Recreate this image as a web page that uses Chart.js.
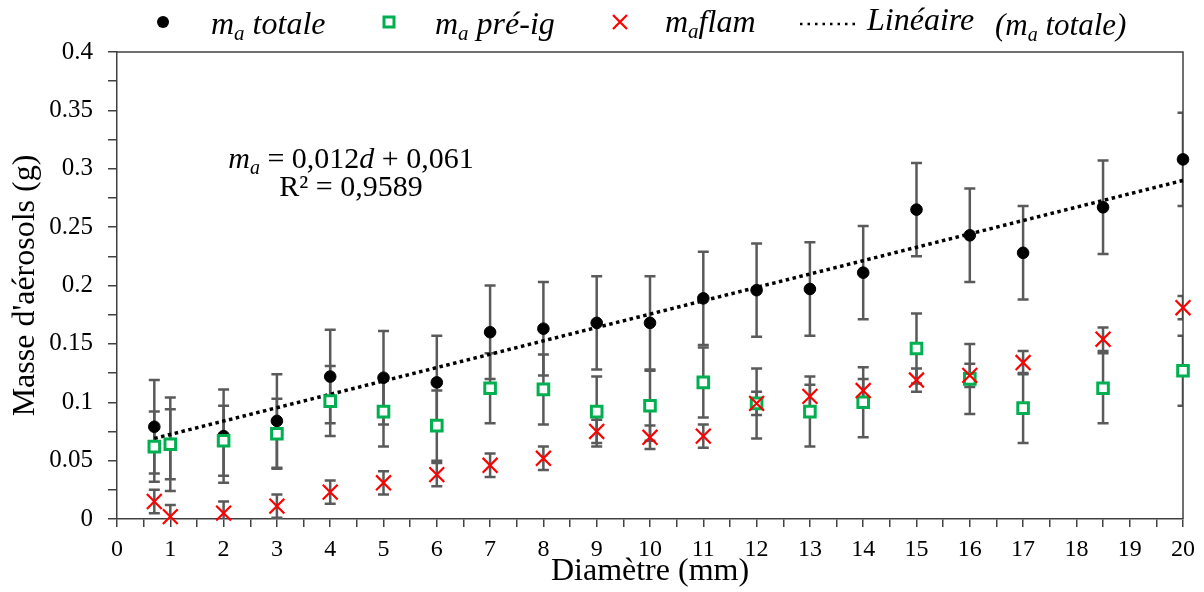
<!DOCTYPE html>
<html>
<head>
<meta charset="utf-8">
<title>Masse d'aérosols</title>
<script src="https://cdn.jsdelivr.net/npm/chart.js@4.4.1/dist/chart.umd.min.js"></script>
<style>
    html, body { margin: 0; padding: 0; background: #fff; }
    #wrap { width: 1204px; height: 592px; }
</style>
</head>
<body>
<div id="wrap"><canvas id="massChart" width="1204" height="592"></canvas></div>
<script>
// Data
const diameters = [0.7, 1, 2, 3, 4, 5, 6, 7, 8, 9, 10, 11, 12, 13, 14, 15, 16, 17, 18.5, 20];
const massTotale = [0.079, 0.064, 0.071, 0.084, 0.122, 0.121, 0.117, 0.160, 0.163, 0.168, 0.168,
                    0.189, 0.196, 0.197, 0.211, 0.265, 0.243, 0.228, 0.267, 0.308];
const massPreIg = [0.062, 0.064, 0.067, 0.073, 0.101, 0.092, 0.080, 0.112, 0.111, 0.092, 0.097,
                   0.117, 0.099, 0.092, 0.100, 0.146, 0.120, 0.095, 0.112, 0.127];
const massFlam = [0.015, 0.002, 0.005, 0.011, 0.023, 0.031, 0.038, 0.046, 0.052, 0.075, 0.070,
                  0.071, 0.099, 0.105, 0.110, 0.119, 0.123, 0.134, 0.154, 0.181];
const errTotale = 0.04;
const errPreIg = 0.03;
const errFlam = 0.01;
// Trend line end points (Linéaire, m_a totale)
const fitX = [0.7, 20];
const fitY = [0.069, 0.290];

const SERIF = '"Liberation Serif", "Times New Roman", serif';
const AXIS = '#404040';
const GREEN = '#00B050';
const RED = '#FF0000';

Chart.defaults.font.family = SERIF;
Chart.defaults.color = '#000';

function points(xs, ys) {
    return xs.map((x, i) => ({ x: x, y: ys[i] }));
}

// Error bars drawn behind the markers, clipped to the plot frame
const errorBars = {
    id: 'errorBars',
    beforeDatasetsDraw(chart) {
        const { ctx, chartArea, scales: { x, y } } = chart;
        ctx.save();
        ctx.beginPath();
        ctx.rect(chartArea.left, chartArea.top, chartArea.width, chartArea.height);
        ctx.clip();
        ctx.strokeStyle = '#5a5a5a';
        ctx.lineWidth = 2.5;
        chart.data.datasets.forEach(ds => {
            if (!ds.err) return;
            ds.data.forEach(p => {
                const px = x.getPixelForValue(p.x);
                const top = y.getPixelForValue(p.y + ds.err);
                const bot = y.getPixelForValue(p.y - ds.err);
                ctx.beginPath();
                ctx.moveTo(px, top);
                ctx.lineTo(px, bot);
                ctx.moveTo(px - 5.5, top);
                ctx.lineTo(px + 5.5, top);
                ctx.moveTo(px - 5.5, bot);
                ctx.lineTo(px + 5.5, bot);
                ctx.stroke();
            });
        });
        ctx.restore();

        // top and right side of the frame
        ctx.save();
        ctx.strokeStyle = AXIS;
        ctx.lineWidth = 1.5;
        ctx.beginPath();
        ctx.moveTo(chartArea.left, chartArea.top);
        ctx.lineTo(chartArea.right, chartArea.top);
        ctx.lineTo(chartArea.right, chartArea.bottom);
        ctx.stroke();
        ctx.restore();
    }
};

// text made of pieces (for the m_a subscripts)
function drawParts(ctx, parts, x, y, align) {
    let total = 0;
    parts.forEach(p => { ctx.font = p.font; total += ctx.measureText(p.t).width; });
    let cx = align === 'center' ? x - total / 2 : x;
    ctx.textAlign = 'left';
    ctx.textBaseline = 'alphabetic';
    parts.forEach(p => {
        ctx.font = p.font;
        ctx.fillText(p.t, cx, y + (p.dy || 0));
        cx += ctx.measureText(p.t).width;
    });
}

const it = size => 'italic ' + size + 'px ' + SERIF;
const up = size => size + 'px ' + SERIF;

const legendAndEquation = {
    id: 'legendAndEquation',
    afterDraw(chart) {
        const ctx = chart.ctx;
        ctx.save();
        ctx.fillStyle = '#000';

        // legend markers
        ctx.beginPath();
        ctx.arc(163, 22, 6, 0, Math.PI * 2);
        ctx.fill();

        ctx.strokeStyle = GREEN;
        ctx.lineWidth = 3;
        ctx.strokeRect(384, 17, 10, 10);

        ctx.strokeStyle = RED;
        ctx.lineWidth = 2.2;
        ctx.beginPath();
        ctx.moveTo(613, 15); ctx.lineTo(627, 29);
        ctx.moveTo(627, 15); ctx.lineTo(613, 29);
        ctx.stroke();

        ctx.strokeStyle = '#000';
        ctx.lineWidth = 2.5;
        ctx.setLineDash([2.5, 5]);
        ctx.beginPath();
        ctx.moveTo(800, 24); ctx.lineTo(856, 24);
        ctx.stroke();
        ctx.setLineDash([]);

        // legend texts
        drawParts(ctx, [{ t: 'm', font: it(32) }, { t: 'a', font: it(21), dy: 6 }, { t: ' totale', font: it(32) }], 211, 34);
        drawParts(ctx, [{ t: 'm', font: it(32) }, { t: 'a', font: it(21), dy: 6 }, { t: ' pré-ig', font: it(32) }], 435, 34);
        drawParts(ctx, [{ t: 'm', font: it(32) }, { t: 'a', font: it(21), dy: 6 }, { t: 'flam', font: it(32) }], 665, 32);
        drawParts(ctx, [{ t: 'Linéaire', font: it(32) }], 867, 30);
        drawParts(ctx, [{ t: '(m', font: it(31) }, { t: 'a', font: it(20), dy: 6 }, { t: ' totale)', font: it(31) }], 995, 35);

        // regression equation
        drawParts(ctx, [
            { t: 'm', font: it(30) }, { t: 'a', font: it(20), dy: 6 },
            { t: ' = 0,012', font: up(30) }, { t: 'd', font: it(30) }, { t: ' + 0,061', font: up(30) }
        ], 351, 168, 'center');
        drawParts(ctx, [{ t: 'R² = 0,9589', font: up(30) }], 351, 196, 'center');
        ctx.restore();
    }
};

const ctx = document.getElementById('massChart').getContext('2d');
const massChart = new Chart(ctx, {
    type: 'scatter',
    data: {
        datasets: [{
            label: 'Linéaire (ma totale)',
            data: points(fitX, fitY),
            showLine: true,
            borderColor: '#000',
            borderWidth: 3.5,
            borderDash: [3.5, 3.5],
            pointRadius: 0,
            order: 4,
            clip: false
        }, {
            label: 'ma totale',
            data: points(diameters, massTotale),
            err: errTotale,
            pointStyle: 'circle',
            pointRadius: 5.8,
            backgroundColor: '#000',
            borderColor: '#000',
            borderWidth: 1,
            order: 3,
            clip: false
        }, {
            label: 'ma pré-ig',
            data: points(diameters, massPreIg),
            err: errPreIg,
            pointStyle: 'rect',
            pointRadius: 7.5,
            backgroundColor: '#fff',
            borderColor: GREEN,
            borderWidth: 3,
            order: 2,
            clip: false
        }, {
            label: 'ma flam',
            data: points(diameters, massFlam),
            err: errFlam,
            pointStyle: 'crossRot',
            pointRadius: 10.5,
            borderColor: RED,
            borderWidth: 2.2,
            order: 1,
            clip: false
        }]
    },
    options: {
        responsive: false,
        animation: false,
        events: [],
        layout: { padding: { top: 52, right: 21, left: 0, bottom: 0 } },
        plugins: {
            legend: { display: false },
            tooltip: { enabled: false }
        },
        scales: {
            x: {
                type: 'linear',
                min: 0,
                max: 20,
                afterFit: scale => { scale.height = 73; },
                grid: { drawOnChartArea: false, tickLength: 8, color: AXIS, lineWidth: 1.5 },
                border: { color: AXIS, width: 1.5 },
                ticks: {
                    stepSize: 0.5,
                    autoSkip: false,
                    maxRotation: 0,
                    padding: 8,
                    color: '#000',
                    font: { family: SERIF, size: 24 },
                    callback: v => Number.isInteger(v) ? String(v) : ''
                },
                title: {
                    display: true,
                    text: 'Diamètre (mm)',
                    color: '#000',
                    font: { family: SERIF, size: 32 },
                    padding: { top: 0, bottom: 1 }
                }
            },
            y: {
                min: 0,
                max: 0.4,
                afterFit: scale => { scale.width = 117; },
                grid: { drawOnChartArea: false, tickLength: 9, color: AXIS, lineWidth: 1.5 },
                border: { color: AXIS, width: 1.5 },
                ticks: {
                    stepSize: 0.025,
                    autoSkip: false,
                    padding: 15,
                    color: '#000',
                    font: { family: SERIF, size: 25 },
                    callback: v => {
                        const k = Math.round(v * 1000);
                        return k % 50 === 0 ? String(k / 1000) : '';
                    }
                },
                title: {
                    display: true,
                    text: "Masse d'aérosols (g)",
                    color: '#000',
                    font: { family: SERIF, size: 32 },
                    padding: { top: 6, bottom: 0 }
                }
            }
        }
    },
    plugins: [errorBars, legendAndEquation]
});
</script>
</body>
</html>
